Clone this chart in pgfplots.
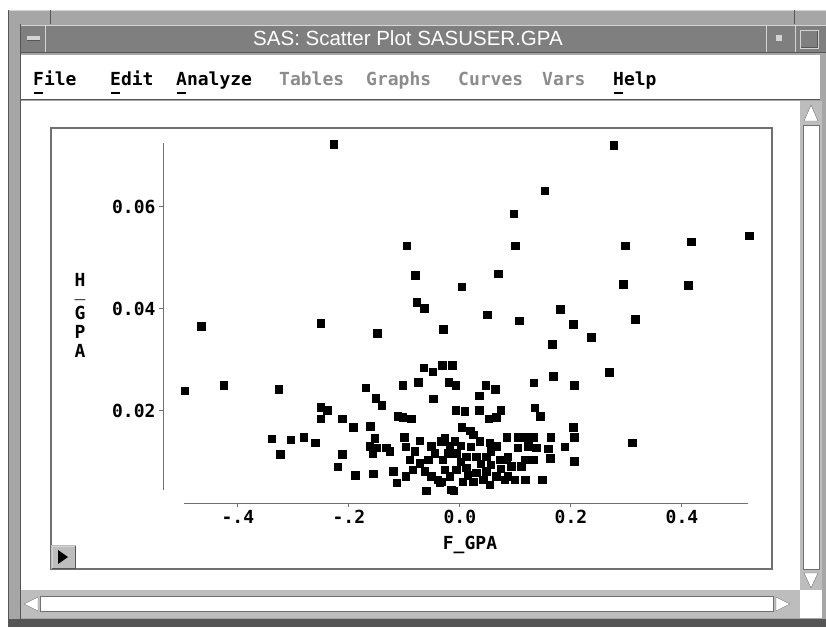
\documentclass[border=0pt]{standalone}
\usepackage{pgfplots}
\pgfplotsset{compat=1.18}
\usepackage{pgfplotstable}
\usepackage{fontspec}
\setmainfont{Liberation Sans}
\newfontfamily\sasmono{DejaVu Sans Mono}
\definecolor{winframe}{HTML}{A6A6A6}
\definecolor{titlebar}{HTML}{7F7F7F}
\definecolor{edgedark}{HTML}{555555}
\definecolor{edgelight}{HTML}{D4D4D4}
\definecolor{greyed}{HTML}{8C8C8C}
\definecolor{axisgray}{HTML}{707070}
\definecolor{scrollbg}{HTML}{BDBDBD}
\newcommand\sasfont{\sasmono\bfseries\fontsize{18}{19}\selectfont}

% F_GPA vs H_GPA
\pgfplotstableread{
fgpa hgpa
-0.2270 0.0722
-0.0950 0.0523
-0.0798 0.0465
-0.0775 0.0413
-0.0643 0.0401
-0.4654 0.0365
-0.2499 0.0371
-0.0294 0.0359
0.0036 0.0443
0.2775 0.0720
0.1532 0.0631
0.0978 0.0586
0.1004 0.0523
0.2978 0.0523
0.4175 0.0531
0.5213 0.0543
0.0697 0.0468
0.2950 0.0448
0.4121 0.0446
0.0499 0.0388
0.1076 0.0376
0.1814 0.0399
0.2041 0.0369
0.3159 0.0379
0.2373 0.0344
0.1663 0.0330
-0.0135 0.0289
0.2697 0.0275
0.1688 0.0267
0.1333 0.0255
0.2067 0.0250
-0.0072 0.0250
0.0468 0.0250
0.0643 0.0242
0.0355 0.0229
-0.0067 0.0201
0.0348 0.0201
0.0739 0.0201
0.0523 0.0184
0.0661 0.0187
0.1351 0.0206
0.1454 0.0189
0.0041 0.0168
0.0193 0.0161
0.2041 0.0167
0.2067 0.0148
0.3105 0.0137
0.0852 0.0148
0.1050 0.0148
0.1202 0.0148
0.1321 0.0148
0.1640 0.0148
0.1892 0.0129
0.1591 0.0125
0.1634 0.0107
0.2067 0.0101
0.1483 0.0065
0.1184 0.0065
-0.0108 0.0043
-0.1483 0.0352
-0.4955 0.0239
-0.4247 0.0250
-0.3256 0.0242
-0.1688 0.0245
-0.1022 0.0250
-0.0744 0.0256
-0.0649 0.0284
-0.0486 0.0276
-0.0312 0.0289
-0.0198 0.0256
-0.0474 0.0223
-0.1508 0.0224
-0.1400 0.0211
-0.2499 0.0207
-0.2384 0.0201
-0.2499 0.0184
-0.2114 0.0184
-0.1915 0.0167
-0.1609 0.0170
-0.1112 0.0189
-0.1022 0.0187
-0.0870 0.0184
-0.3382 0.0145
-0.3040 0.0143
-0.2805 0.0148
-0.2600 0.0137
-0.3231 0.0115
-0.2114 0.0115
-0.2193 0.0090
-0.1886 0.0074
-0.1555 0.0076
-0.1195 0.0081
-0.1130 0.0059
-0.0973 0.0071
-0.0996 0.0148
-0.0973 0.0129
-0.0600 0.0043
-0.1532 0.0146
-0.1622 0.0130
-0.1501 0.0127
-0.1321 0.0127
-0.1261 0.0120
-0.1562 0.0117
-0.0510 0.0130
-0.0330 0.0140
-0.0270 0.0146
-0.0180 0.0130
-0.0330 0.0061
-0.0150 0.0045
-0.0811 0.0120
-0.0721 0.0097
-0.0631 0.0081
-0.0510 0.0071
-0.0391 0.0065
-0.0571 0.0104
-0.0450 0.0117
-0.0301 0.0104
-0.0270 0.0084
-0.0180 0.0071
-0.0211 0.0117
-0.0901 0.0104
0.0090 0.0199
-0.0090 0.0140
0.0240 0.0153
0.0360 0.0140
0.0541 0.0137
0.0661 0.0130
-0.0059 0.0117
0.0121 0.0110
0.0301 0.0110
0.0481 0.0110
0.0721 0.0104
0.0841 0.0104
-0.0059 0.0084
0.0121 0.0088
0.0301 0.0078
0.0481 0.0081
0.0661 0.0071
0.0811 0.0065
0.0059 0.0061
0.0240 0.0061
0.0420 0.0065
0.1050 0.0127
0.1231 0.0130
0.1382 0.0127
0.0870 0.0110
0.1171 0.0104
0.1321 0.0104
0.0932 0.0091
0.1112 0.0091
0.0870 0.0071
0.0991 0.0065
0.0018 0.0131
0.0198 0.0129
0.0559 0.0120
0.0018 0.0100
0.0378 0.0096
0.0559 0.0094
0.0739 0.0086
0.0144 0.0073
0.0541 0.0055
-0.0360 0.0059
-0.0721 0.0141
-0.0847 0.0084
}\gpadata

\begin{document}
\begin{tikzpicture}
\useasboundingbox (0pt,0pt) rectangle (826pt,-627pt);
\begin{scope}[x=1pt,y=-1pt]
% window frame
\fill[white] (0,0) rectangle (826,627);
\fill[winframe] (8,10) rectangle (826,627);
\draw[edgelight] (8,10.5) -- (826,10.5);
\draw[edgedark] (8.5,10) -- (8.5,627);
\draw[edgedark] (20.5,24) -- (20.5,621);
\draw[edgedark] (50.5,10) -- (50.5,24);
\draw[edgedark] (794.5,10) -- (794.5,24);
% title bar
\fill[titlebar] (21,25) rectangle (826,53);
\draw[edgelight] (21,25.5) -- (826,25.5);
\draw[edgedark] (21,52.5) -- (826,52.5);
\draw[edgelight] (45.5,25) -- (45.5,52);
\draw[edgelight] (766.5,25) -- (766.5,52);
\draw[edgelight] (795.5,25) -- (795.5,52);
\fill[edgelight] (27,36) rectangle (40,40);
\draw[edgedark] (27,40) -- (40,40);
\fill[edgelight] (776,35) rectangle (782,41);
\draw[edgelight,line width=1pt] (800,30) rectangle (818,48);
\draw[edgedark] (801,47) -- (817,47) -- (817,31);
\node[text=white,font=\fontsize{20.5}{21}\selectfont] at (408,38) {SAS: Scatter Plot SASUSER.GPA};
% menu bar
\fill[white] (21,55) rectangle (820,99);
\draw[edgedark] (21,99.5) -- (820,99.5);
\begin{scope}[every node/.style={anchor=base west,inner sep=0pt,font=\sasfont}]
\node at (33,85) {File};
\node at (110,85) {Edit};
\node at (176,85) {Analyze};
\node[text=greyed] at (279,85) {Tables};
\node[text=greyed] at (366,85) {Graphs};
\node[text=greyed] at (458,85) {Curves};
\node[text=greyed] at (542,85) {Vars};
\node at (613,85) {Help};
\end{scope}
\foreach \u in {33,110,176,613} \draw[line width=1.2pt] (\u+1,93) -- (\u+10,93);
% content area
\fill[white] (21,101) rectangle (800,590);
% vertical scrollbar
\fill[scrollbg] (800,101) rectangle (822,590);
\draw[fill=white,draw=axisgray] (811,105) -- (818,121) -- (804,121) -- cycle;
\draw[fill=white,draw=axisgray] (803,125) rectangle (819,569);
\draw[fill=white,draw=axisgray] (811,588) -- (818,573) -- (804,573) -- cycle;
% horizontal scrollbar
\fill[scrollbg] (21,590) rectangle (800,618);
\fill[white] (800,590) rectangle (822,618);
\draw[fill=white,draw=axisgray] (24,604) -- (38,597) -- (38,611) -- cycle;
\draw[fill=white,draw=axisgray] (40,596) rectangle (773,611);
\draw[fill=white,draw=axisgray] (790,604) -- (776,597) -- (776,611) -- cycle;
\fill[edgedark] (8,619) rectangle (826,627);
% plot frame and its button
\draw[axisgray,line width=1.2pt] (51,128) rectangle (772,569);
\fill[scrollbg] (51,545) rectangle (76,569);
\draw[edgelight] (52,568) -- (52,546) -- (75,546);
\draw[edgedark] (52,568) -- (75,568) -- (75,546);
\fill[black] (58,550) -- (68,557) -- (58,564) -- cycle;
% stacked y label H_GPA
\node[anchor=base,inner sep=0pt,font=\sasfont] at (80,286) {H};
\node[anchor=base,inner sep=0pt,font=\sasmono\bfseries\fontsize{9}{9}\selectfont] at (80,298) {\scalebox{2}[1]{\_}};
\node[anchor=north,inner sep=0pt,align=center,font=\sasfont] at (80,306) {G\\P\\A};
\end{scope}

\begin{axis}[
  at={(184pt,-490pt)},
  anchor=south west,
  scale only axis,
  width=564pt,
  height=347pt,
  xmin=-0.497, xmax=0.519,
  ymin=0.0045, ymax=0.0725,
  clip=false,
  scaled y ticks=false,
  scaled x ticks=false,
  axis x line=bottom,
  axis y line=left,
  axis x line shift=13pt,
  axis y line shift=21pt,
  axis line style={-,draw=axisgray,line width=0.9pt},
  tick style={draw=axisgray,line width=0.9pt},
  tick align=outside,
  major tick length=4pt,
  xtick={-0.4,-0.2,0,0.2,0.4},
  xticklabels={-.4,-.2,0.0,0.2,0.4},
  ytick={0.02,0.04,0.06},
  yticklabels={0.02,0.04,0.06},
  ticklabel style={font=\sasfont},
  xlabel={F\_GPA},
  xlabel style={font=\sasfont,at={(axis description cs:0.5,0)},anchor=center,yshift=-55pt,xshift=4pt},
]
\addplot[only marks,mark=square*,mark size=3.8pt,mark options={fill=black,draw=black,line width=0pt}] table[x=fgpa,y=hgpa] {\gpadata};
\end{axis}
\end{tikzpicture}
\end{document}
